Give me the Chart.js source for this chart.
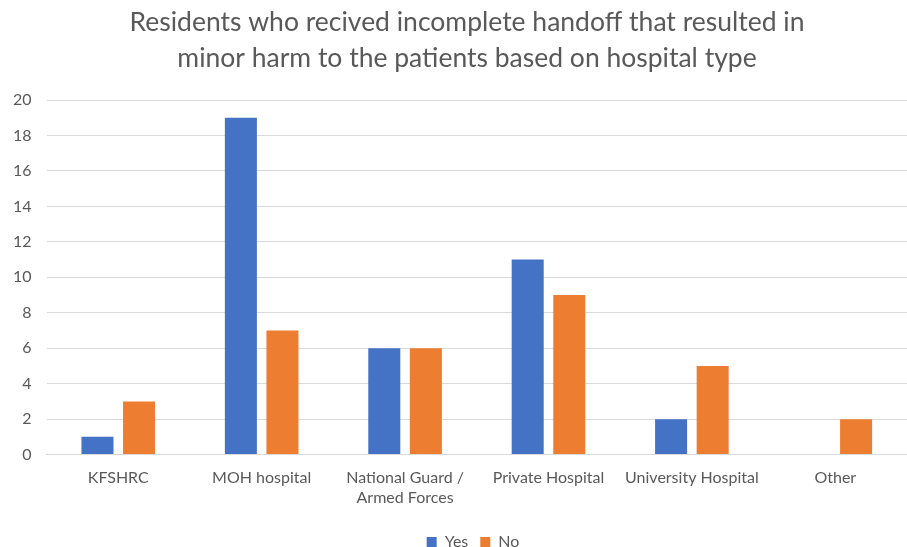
<!DOCTYPE html>
<html>
<head>
<meta charset="utf-8">
<script src="https://cdn.jsdelivr.net/npm/chart.js@4"></script>
<style>
  html, body { margin: 0; padding: 0; background: #fff; overflow: hidden; }
  #wrap { width: 907px; height: 547px; position: relative; }
</style>
</head>
<body>
<div id="wrap"><canvas id="chart"></canvas></div>
<script>
const categories = ["KFSHRC", "MOH hospital", ["National Guard /", "Armed Forces"], "Private Hospital", "University Hospital", "Other"];
const yesValues = [1, 19, 6, 11, 2, null];
const noValues = [3, 7, 6, 9, 5, 2];
const yTicks = [0, 2, 4, 6, 8, 10, 12, 14, 16, 18, 20];

const textColor = "#595959";
const fontFamily = "Lato, 'Liberation Sans', sans-serif";

// title and legend sit a bit right of the centre of the chart box
const nudgeBlocks = {
    id: "nudgeBlocks",
    afterLayout(chart) {
        if (chart.titleBlock) chart.titleBlock.left += 18;
        if (chart.legend) chart.legend.left += 30;
    },
};

const ctx = document.getElementById("chart").getContext("2d");
new Chart(ctx, {
    type: "bar",
    data: {
        labels: categories,
        datasets: [
            {
                label: "Yes",
                data: yesValues,
                backgroundColor: "#4472C4",
                categoryPercentage: 0.58,
                barPercentage: 0.77,
            },
            {
                label: "No",
                data: noValues,
                backgroundColor: "#ED7D31",
                categoryPercentage: 0.58,
                barPercentage: 0.77,
            },
        ],
    },
    options: {
        responsive: true,
        maintainAspectRatio: false,
        animation: false,
        layout: { padding: { left: -2, right: -11, top: 4, bottom: -13 } },
        plugins: {
            title: {
                display: true,
                text: [
                    "Residents who recived incomplete handoff that resulted in",
                    "minor harm to the patients based on hospital type",
                ],
                color: textColor,
                font: { family: fontFamily, size: 26.5, weight: "normal", lineHeight: 1.36 },
                padding: { top: 0, bottom: 24 },
            },
            legend: {
                position: "bottom",
                labels: {
                    color: textColor,
                    font: { family: fontFamily, size: 16 },
                    boxWidth: 10,
                    boxHeight: 10,
                    padding: 12,
                },
            },
            tooltip: { enabled: false },
        },
        scales: {
            x: {
                grid: { display: false },
                border: { color: "#D9D9D9" },
                afterFit: (axis) => {
                    axis.height += 9;
                },
                ticks: {
                    color: textColor,
                    font: { family: fontFamily, size: 16 },
                    maxRotation: 0,
                    autoSkip: false,
                    padding: 6,
                },
            },
            y: {
                min: 0,
                max: 20,
                border: { display: false },
                grid: { color: "#D9D9D9", drawTicks: false },
                afterBuildTicks: (axis) => {
                    axis.ticks = yTicks.map((v) => ({ value: v }));
                },
                ticks: {
                    color: textColor,
                    font: { family: fontFamily, size: 16 },
                    padding: 15,
                },
            },
        },
    },
    plugins: [nudgeBlocks],
});
</script>
</body>
</html>
